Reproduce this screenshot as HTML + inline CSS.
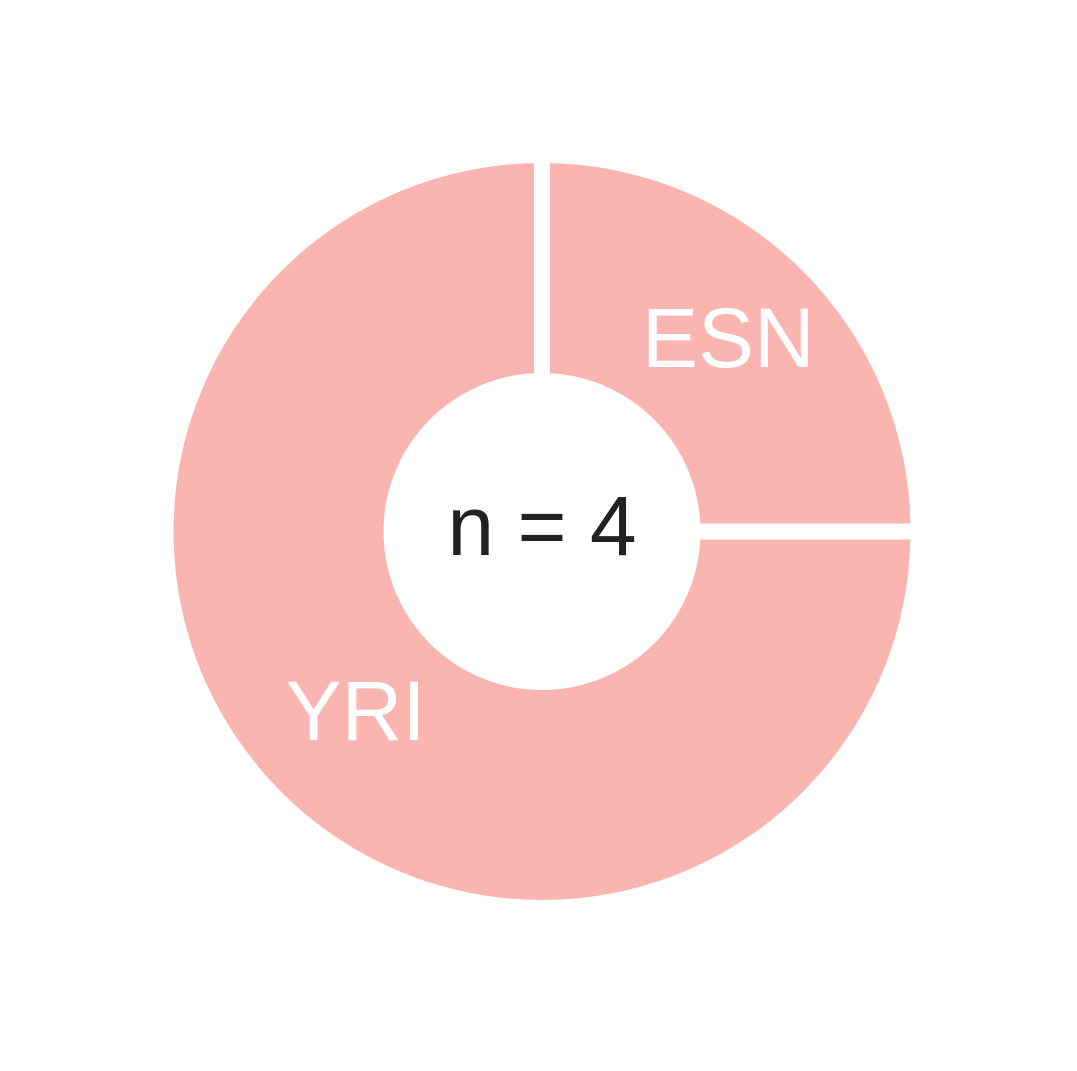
<!DOCTYPE html>
<html><head><meta charset="utf-8"><style>html,body{margin:0;padding:0;background:#fff;}svg{display:block}</style></head>
<body>
<svg id="chart" width="1077" height="1071" viewBox="0 0 1077 1071" xmlns="http://www.w3.org/2000/svg">
<g id="slices"></g>
<g id="gaps"></g>
<g id="labels"></g>
<text x="542" y="555" text-anchor="middle" font-family="Liberation Sans, sans-serif" font-size="84" fill="#222">n = 4</text>
</svg>
<script>
const categories = ["ESN", "YRI"];
const counts = [1, 3];
const cx = 542, cy = 531.5, R = 368.5, r = 158.5;
const NS = "http://www.w3.org/2000/svg";
const total = counts.reduce((a, b) => a + b, 0);
function pt(rad, a) { return [cx + rad * Math.sin(a), cy - rad * Math.cos(a)]; }
let start = 0;
const sl = document.getElementById('slices'), gp = document.getElementById('gaps'), lb = document.getElementById('labels');
counts.forEach((v, i) => {
  const sweep = v / total * 2 * Math.PI, end = start + sweep;
  const large = sweep > Math.PI ? 1 : 0;
  const [x1, y1] = pt(R, start), [x2, y2] = pt(R, end), [x3, y3] = pt(r, end), [x4, y4] = pt(r, start);
  const p = document.createElementNS(NS, 'path');
  p.setAttribute('d', `M${x1},${y1} A${R},${R} 0 ${large} 1 ${x2},${y2} L${x3},${y3} A${r},${r} 0 ${large} 0 ${x4},${y4} Z`);
  p.setAttribute('fill', '#FAB5B1');
  
  
  sl.appendChild(p);
  const [a1, b1] = pt(r - 2, start), [a2, b2] = pt(R + 4, start);
  const ln = document.createElementNS(NS, 'line');
  ln.setAttribute('x1', a1); ln.setAttribute('y1', b1); ln.setAttribute('x2', a2); ln.setAttribute('y2', b2);
  ln.setAttribute('stroke', '#fff'); ln.setAttribute('stroke-width', '16');
  
  
  gp.appendChild(ln);
  const mid = start + sweep / 2, [lx, ly] = pt((R + r) / 2, mid);
  const t = document.createElementNS(NS, 'text');
  t.setAttribute('x', lx); t.setAttribute('y', ly + 22);
  t.setAttribute('text-anchor', 'middle');
  t.setAttribute('font-family', 'Liberation Sans, sans-serif');
  t.setAttribute('font-size', '84'); t.setAttribute('fill', '#fff');
  
  
  t.textContent = categories[i];
  lb.appendChild(t);
  start = end;
});
</script>
</body></html>
